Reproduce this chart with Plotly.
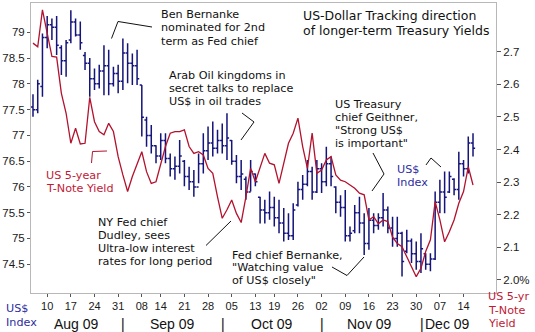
import plotly.graph_objects as go

# ---- data ----
aug = [5, 6, 7, 10, 11, 12, 13, 14, 17, 18, 19, 20, 21, 24, 25, 26, 27, 28, 31]
sep = [1, 2, 3, 4, 8, 9, 10, 11, 14, 15, 16, 17, 18, 21, 22, 23, 24, 25, 28, 29, 30]
oct_ = [1, 2, 5, 6, 7, 8, 9, 13, 14, 15, 16, 19, 20, 21, 22, 23, 26, 27, 28, 29, 30]
nov = [2, 3, 4, 5, 6, 9, 10, 11, 12, 13, 16, 17, 18, 19, 20, 23, 24, 25, 26, 27, 30]
dec = [1, 2, 3, 4, 7, 8, 9, 10, 11, 14, 15, 16]
dates = ([f"2009-08-{d:02d}" for d in aug] + [f"2009-09-{d:02d}" for d in sep] +
         [f"2009-10-{d:02d}" for d in oct_] + [f"2009-11-{d:02d}" for d in nov] +
         [f"2009-12-{d:02d}" for d in dec])

usd_high = [77.80, 78.08, 78.98, 79.32, 79.27, 79.32, 78.75, 78.85, 79.43, 79.27,
            79.21, 78.62, 78.50, 78.30, 78.37, 78.75, 78.66, 78.33, 78.37, 78.88,
            78.79, 78.59, 78.66, 77.98, 77.36, 77.20, 76.81, 77.04, 77.04, 76.65,
            76.59, 76.91, 76.52, 76.39, 76.33, 76.65, 77.04, 77.17, 77.27, 77.11,
            77.23, 77.43, 76.91, 76.62, 76.52, 76.20, 76.52, 76.26, 75.81, 75.75,
            75.91, 75.81, 75.75, 75.59, 75.49, 75.68, 76.10, 76.23, 76.52, 76.39,
            76.52, 76.46, 76.78, 76.59, 76.01, 75.84, 75.94, 75.23, 75.65, 75.81,
            75.49, 75.59, 75.49, 75.49, 75.88, 75.62, 75.42, 75.42, 75.13, 75.17,
            75.00, 74.94, 75.10, 74.71, 74.71, 75.91, 76.14, 76.30, 76.30, 76.17,
            76.68, 76.52, 76.98, 77.04]
usd_low = [77.36, 77.43, 77.75, 78.69, 78.85, 78.56, 78.17, 78.14, 78.79, 78.92,
           78.66, 78.27, 77.75, 77.88, 77.91, 77.78, 77.78, 77.95, 77.82, 77.88,
           78.01, 77.98, 77.98, 76.98, 76.78, 76.65, 76.46, 76.52, 76.46, 76.20,
           76.14, 76.26, 76.01, 75.94, 75.81, 76.07, 76.26, 76.52, 76.59, 76.65,
           76.65, 76.52, 76.43, 76.07, 75.94, 75.75, 75.91, 76.01, 75.29, 75.29,
           75.36, 75.23, 75.10, 74.94, 74.97, 74.97, 75.62, 75.75, 76.01, 75.75,
           75.88, 75.88, 76.01, 76.01, 75.49, 75.42, 74.94, 74.94, 75.10, 75.10,
           74.68, 74.78, 75.10, 75.17, 75.23, 75.10, 74.84, 74.84, 74.26, 74.71,
           74.52, 74.39, 74.33, 74.39, 74.36, 74.58, 75.49, 75.49, 75.88, 75.84,
           75.75, 76.20, 76.26, 76.59]
usd_open = [77.55, 77.50, 77.95, 78.90, 79.15, 79.10, 78.70, 78.45, 78.85, 79.20,
            78.95, 78.55, 78.40, 78.10, 78.00, 78.25, 78.35, 78.00, 78.20, 78.05,
            78.60, 78.40, 78.35, 77.98, 77.30, 77.00, 76.80, 76.60, 76.90, 76.55,
            76.35, 76.40, 76.50, 76.20, 76.10, 76.00, 76.45, 76.70, 76.85, 76.75,
            76.90, 76.80, 76.90, 76.50, 76.20, 76.15, 75.90, 76.25, 75.80, 75.55,
            75.50, 75.60, 75.40, 75.30, 75.10, 75.05, 75.65, 75.95, 76.05, 76.30,
            75.90, 76.35, 76.10, 76.45, 76.00, 75.70, 75.60, 75.05, 75.15, 75.50,
            75.30, 74.90, 75.35, 75.25, 75.40, 75.55, 75.20, 75.00, 75.10, 74.75,
            74.95, 74.70, 74.55, 74.70, 74.50, 74.60, 75.70, 75.90, 75.90, 76.15,
            75.95, 76.45, 76.35, 76.85]
usd_close = [77.50, 78.00, 78.90, 79.15, 79.10, 78.75, 78.45, 78.80, 79.20, 78.95,
             78.80, 78.40, 78.10, 78.00, 78.25, 78.35, 78.00, 78.20, 78.05, 78.60,
             78.40, 78.35, 78.10, 77.35, 77.00, 76.80, 76.60, 76.90, 76.55, 76.35,
             76.40, 76.60, 76.20, 76.10, 76.00, 76.45, 76.70, 76.85, 76.75, 76.90,
             76.80, 76.95, 76.50, 76.20, 76.25, 75.90, 76.30, 76.10, 75.55, 75.50,
             75.60, 75.40, 75.30, 75.10, 75.05, 75.55, 75.95, 76.05, 76.30, 75.90,
             76.35, 76.10, 76.45, 76.20, 75.70, 75.60, 75.05, 75.10, 75.50, 75.30,
             74.90, 75.35, 75.25, 75.40, 75.55, 75.20, 75.00, 75.10, 74.55, 74.95,
             74.70, 74.55, 74.80, 74.50, 74.60, 75.70, 75.90, 75.80, 76.20, 75.95,
             76.45, 76.35, 76.85, 76.75]
yield_5yr = [2.726, 2.715, 2.828, 2.756, 2.685, 2.683, 2.572, 2.511, 2.419, 2.465,
             2.417, 2.419, 2.560, 2.485, 2.455, 2.445, 2.480, 2.455, 2.378, 2.322,
             2.271, 2.317, 2.358, 2.393, 2.332, 2.296, 2.301, 2.353, 2.409, 2.450,
             2.455, 2.455, 2.460, 2.409, 2.388, 2.393, 2.383, 2.342, 2.327, 2.255,
             2.189, 2.215, 2.245, 2.204, 2.176, 2.255, 2.342, 2.301, 2.347, 2.388,
             2.358, 2.353, 2.296, 2.358, 2.419, 2.450, 2.496, 2.409, 2.342, 2.450,
             2.327, 2.337, 2.368, 2.378, 2.322, 2.306, 2.301, 2.291, 2.281, 2.266,
             2.261, 2.184, 2.194, 2.172, 2.184, 2.179, 2.131, 2.112, 2.102, 2.071,
             2.041, 2.010, 2.036, 2.087, 2.123, 2.240, 2.184, 2.117, 2.148, 2.184,
             2.235, 2.271, 2.347, 2.291]

tick_dates = ["2009-08-10", "2009-08-17", "2009-08-24", "2009-08-31", "2009-09-08",
              "2009-09-14", "2009-09-21", "2009-09-28", "2009-10-05", "2009-10-13",
              "2009-10-19", "2009-10-26", "2009-11-02", "2009-11-09", "2009-11-16",
              "2009-11-23", "2009-11-30", "2009-12-07", "2009-12-14"]
tick_text = ["10", "17", "24", "31", "08", "14", "21", "28", "05", "13", "19", "26",
             "02", "09", "16", "23", "30", "07", "14"]
usd_ticks = [74.5, 75, 75.5, 76, 76.5, 77, 77.5, 78, 78.5, 79]
yld_ticks = [2.0, 2.1, 2.2, 2.3, 2.4, 2.5, 2.6, 2.7]
yld_ticktext = ["2.0%", "2.1", "2.2", "2.3", "2.4", "2.5", "2.6", "2.7"]

NAVY = "#14147a"
RED = "#b3122e"
BLUE_TXT = "#2e2ea0"
RED_TXT = "#c01a36"

W, H = 535, 332
L, R, T, B = 31, 39, 3, 39


def px(x):
    return (x - L) / (W - L - R)


def py(y):
    return (H - B - y) / (H - T - B)


fig = go.Figure()
fig.add_trace(go.Ohlc(
    x=dates, open=usd_open, high=usd_high, low=usd_low, close=usd_close,
    increasing=dict(line=dict(color=NAVY, width=1.5)),
    decreasing=dict(line=dict(color=NAVY, width=1.5)),
    tickwidth=0.45, showlegend=False, hoverinfo="skip"))
fig.add_trace(go.Scatter(
    x=dates, y=yield_5yr, mode="lines", yaxis="y2",
    line=dict(color=RED, width=1.3), showlegend=False, hoverinfo="skip"))

ann = []
TXT_FONT = "DejaVu Sans"


def lines(texts, x, y0, dy, color="#111", size=11.2):
    for k, t in enumerate(texts):
        ann.append(dict(text=t, x=px(x), y=py(y0 + k * dy), xref="paper", yref="paper",
                        xanchor="left", yanchor="middle", showarrow=False,
                        font=dict(family=TXT_FONT, size=size, color=color)))


lines(["Ben Bernanke", "nominated for 2nd", "term as Fed chief"], 159, 15, 13)
lines(["US-Dollar Tracking direction", "of longer-term Treasury Yields"], 301, 16, 14.7, size=12.5)
lines(["Arab Oil kingdoms in", "secret talks to replace", "US$ in oil trades"], 167, 75, 13)
lines(["US Treasury", "chief Geithner,", "\"Strong US$", "is important\""], 333, 104, 13.3)
lines(["US$", "Index"], 395, 169.5, 13.3, color=BLUE_TXT)
lines(["US 5-year", "T-Note Yield"], 44, 175, 13.3, color=RED_TXT)
lines(["NY Fed chief", "Dudley, sees", "Ultra-low interest", "rates for long period"], 96, 222.7, 13)
lines(["Fed chief Bernanke,", "\"Watching value", "of US$ closely\""], 230, 255, 12.9)
lines(["US$", "Index"], 4, 308.5, 14, color=BLUE_TXT)
lines(["US 5-yr", "T-Note", "Yield"], 486, 296.7, 13.3, color=RED_TXT)

MONTH_FONT = dict(family="Liberation Sans", size=14, color="#111")
for txt, xc, anchor in [("Aug 09", 76, "center"), ("Sep 09", 172, "center"),
                        ("Oct 09", 271, "center"), ("Nov 09", 369.5, "center"),
                        ("|", 123.3, "center"), ("|", 222.7, "center"),
                        ("|", 321.7, "center"), ("|", 421.7, "center"),
                        ("Dec 09", 423, "left")]:
    ann.append(dict(text=txt, x=px(xc), y=py(323.5), xref="paper", yref="paper",
                    xanchor=anchor, yanchor="middle", showarrow=False, font=MONTH_FONT))

shapes = []


def leader(pts, color="#111"):
    path = "M " + " L ".join(f"{px(a):.5f},{py(b):.5f}" for a, b in pts)
    shapes.append(dict(type="path", path=path, xref="paper", yref="paper",
                       line=dict(color=color, width=1)))


leader([(152, 27), (118, 21.5), (111.5, 38.5)])
leader([(242, 113), (254, 122), (241, 140)])
leader([(373, 153), (384, 174), (372, 191)])
leader([(426, 165), (431, 158), (441, 167)])
leader([(91.5, 163), (92.5, 151.5), (107, 151)], color=RED)
leader([(206, 245.5), (231, 221)])
leader([(332, 267), (347, 275.5), (364, 257)])

TICK_FONT = dict(family="Liberation Sans", size=11, color="#1a1a1a")
fig.update_layout(
    width=W, height=H, margin=dict(l=L, r=R, t=T, b=B),
    paper_bgcolor="white", plot_bgcolor="white",
    annotations=ann, shapes=shapes,
    xaxis=dict(type="category", range=[-0.42, 97.86], rangeslider=dict(visible=False),
               tickmode="array", tickvals=tick_dates, ticktext=tick_text,
               ticks="outside", ticklen=3, tickcolor="#555", tickfont=TICK_FONT,
               showgrid=False, zeroline=False, showline=True, mirror=True,
               linecolor="#b8b8b8", linewidth=1),
    yaxis=dict(range=[73.94, 79.57], tickmode="array", tickvals=usd_ticks,
               ticktext=[f"{v:g}" for v in usd_ticks],
               ticks="outside", ticklen=3, tickcolor="#555",
               tickfont=dict(family="Liberation Sans", size=11.5, color="#1a1a1a"),
               showgrid=False, zeroline=False, showline=True, mirror=True,
               linecolor="#b8b8b8", linewidth=1),
    yaxis2=dict(overlaying="y", side="right", range=[1.960, 2.849],
                tickmode="array", tickvals=yld_ticks, ticktext=yld_ticktext,
                ticks="outside", ticklen=4, tickcolor="#555",
                tickfont=dict(family="Liberation Sans", size=11.5, color="#1a1a1a"),
                showgrid=False, zeroline=False, showline=False),
)

fig.write_html("out.html")
